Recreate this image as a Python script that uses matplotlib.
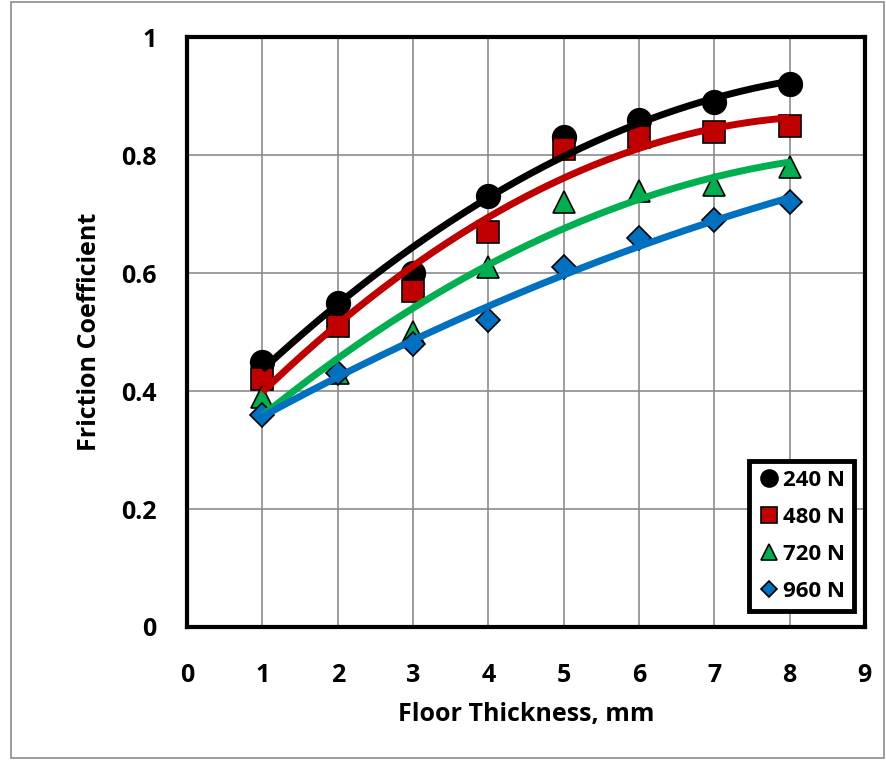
import numpy as np
import matplotlib.pyplot as plt
from matplotlib.patches import Rectangle

plt.rcParams['font.family'] = ['Open Sans', 'DejaVu Sans']

thickness = [1, 2, 3, 4, 5, 6, 7, 8]
loads = ['240 N', '480 N', '720 N', '960 N']
mu_240 = [0.45, 0.55, 0.60, 0.73, 0.83, 0.86, 0.89, 0.92]
mu_480 = [0.42, 0.51, 0.57, 0.67, 0.81, 0.83, 0.84, 0.85]
mu_720 = [0.39, 0.43, 0.50, 0.61, 0.72, 0.74, 0.75, 0.78]
mu_960 = [0.36, 0.43, 0.48, 0.52, 0.61, 0.66, 0.69, 0.72]

series = [mu_240, mu_480, mu_720, mu_960]
colors = ['#000000', '#C00000', '#00B050', '#0070C0']
markers = ['o', 's', '^', 'D']
msizes = [17, 16, 16, 12]

fig = plt.figure(figsize=(8.87, 7.6), dpi=100)
ax = fig.add_axes([0.211, 0.175, 0.764, 0.776])

x = np.array(thickness)
xs = np.linspace(1, 8, 200)
handles = []
# markers first, then 2nd-order trend lines on top (like Excel)
for y, c, m, ms, lab in zip(series, colors, markers, msizes, loads):
    h, = ax.plot(x, y, linestyle='none', marker=m, markersize=ms,
                 markerfacecolor=c, markeredgecolor='black', markeredgewidth=1.2,
                 label=lab, zorder=3)
    handles.append(h)
for y, c in zip(series, colors):
    p = np.polyfit(x, y, 2)
    ax.plot(xs, np.polyval(p, xs), color=c, linewidth=5, zorder=4,
            solid_capstyle='butt')

ax.set_xlim(0, 9)
ax.set_ylim(0, 1)
ax.set_xticks(range(0, 10))
ax.set_yticks([0, 0.2, 0.4, 0.6, 0.8, 1])
ax.set_yticklabels(['0', '0.2', '0.4', '0.6', '0.8', '1'])
ax.grid(True, color='#8c8c8c', linewidth=1.2)
ax.set_axisbelow(True)
ax.tick_params(length=0, labelsize=18, pad=26)
ax.tick_params(axis='y', pad=22)
for t in ax.get_xticklabels() + ax.get_yticklabels():
    t.set_fontweight('bold')
for s in ax.spines.values():
    s.set_linewidth(3)
    s.set_color('black')

ax.set_xlabel('Floor Thickness, mm', fontsize=18, fontweight='bold', labelpad=10)
ax.set_ylabel('Friction Coefficient', fontsize=18, fontweight='bold', labelpad=14)

leg = ax.legend(handles=handles, loc='lower right', bbox_to_anchor=(0.99, 0.02),
                prop={'weight': 'bold', 'size': 16},
                handletextpad=0.1, handlelength=1.0, labelspacing=0.72,
                borderpad=0.4, borderaxespad=0.2, markerscale=0.72,
                fancybox=False, framealpha=1)
leg.get_frame().set_edgecolor('black')
leg.get_frame().set_linewidth(3.5)

fig.patches.append(Rectangle((0.012, 0.003), 0.985, 0.994, transform=fig.transFigure,
                             fill=False, edgecolor='#8c8c8c', linewidth=1.2))

fig.savefig('out.png', dpi=100)
